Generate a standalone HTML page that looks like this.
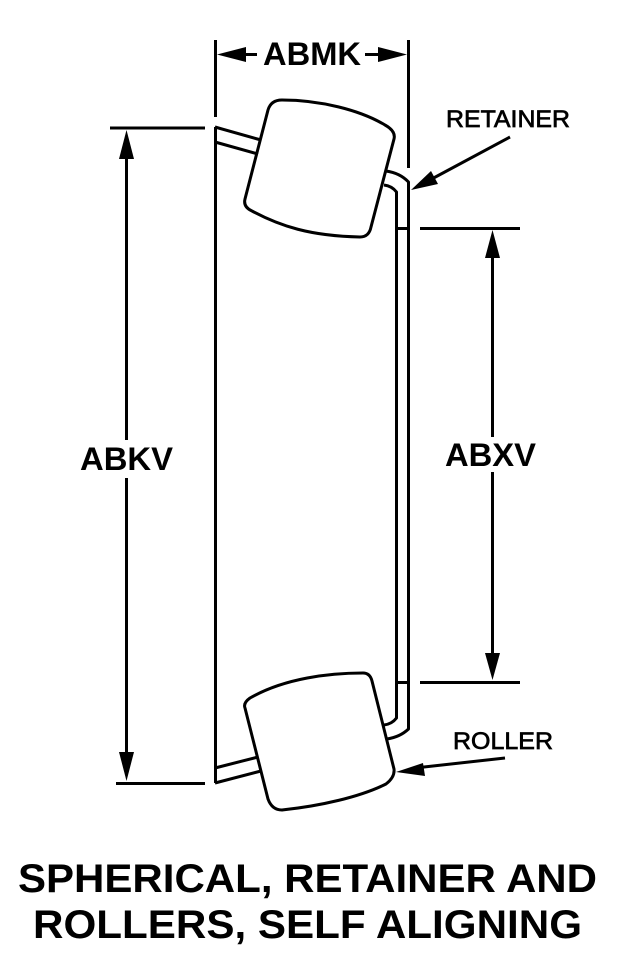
<!DOCTYPE html>
<html>
<head>
<meta charset="utf-8">
<style>
html,body{margin:0;padding:0;background:#fff;width:617px;height:969px;overflow:hidden}
svg{display:block}
text{font-family:"Liberation Sans",Arial,sans-serif;fill:#000;stroke:none}
.b{font-weight:bold}
</style>
</head>
<body>
<svg width="617" height="969" viewBox="0 0 617 969" xmlns="http://www.w3.org/2000/svg">
<g fill="none" stroke="#000" stroke-width="3" stroke-linecap="butt" stroke-linejoin="round">
  <!-- extension lines -->
  <path d="M215.500 40V117"/>
  <path d="M215.500 127V783"/>
  <path d="M408.500 40V168"/>
  <path d="M110 128H205"/>
  <path d="M116 783.500H205"/>
  <path d="M420 228.500H520"/>
  <path d="M420 682.500H520"/>
  <!-- cage -->
  <path d="M215 127L261 140"/>
  <path d="M215 142L258 154"/>
  <path d="M215 768L258 757"/>
  <path d="M215 783L261 771"/>
  <!-- retainer -->
  <path d="M386 171Q400 173 408.500 182V729Q400 737 387 739"/>
  <path d="M384 185Q392 186 396.500 192V718Q392 724 384 725"/>
  <path d="M396 228.500H408"/>
  <path d="M396 682.500H408"/>
  <!-- rollers -->
  <path d="M268 110Q271 100 282 100C320 100 360 110 385 125Q396 131 394 139L371 227Q369 237 360 237C310 236 280 226 252 211Q243 207 245 199Z"/>
  <path d="M245 708Q243 703 250 698C285 678 330 673 363 673Q370 673 372 681L394 769Q395 777 386 784C360 797 320 806 282 810Q272 810 268 799Z"/>
  <!-- dimension shafts -->
  <path d="M126.500 150V440"/>
  <path d="M126.500 478V760"/>
  <path d="M492.500 250V437"/>
  <path d="M492.500 472V660"/>
  <path d="M235 54.500H257"/>
  <path d="M365 54.500H388"/>
  <path d="M510 137L428 181"/>
  <path d="M505 758L415 768"/>
</g>
<g fill="#000" stroke="none">
  <path d="M217 54.500L246 47V62Z"/>
  <path d="M407 54.500L378 47V62Z"/>
  <path d="M126.500 130L119 159H134Z"/>
  <path d="M126.500 781L119 752H134Z"/>
  <path d="M492.500 230L485 258H500Z"/>
  <path d="M492.500 680L485 653H500Z"/>
  <path d="M411 190L431 171L438 184Z"/>
  <path d="M396 772L423 763L425 776Z"/>
</g>
<text class="b" x="263" y="65" font-size="32.500" textLength="98" lengthAdjust="spacingAndGlyphs">ABMK</text>
<text class="b" x="80" y="470" font-size="32.500" textLength="93" lengthAdjust="spacingAndGlyphs">ABKV</text>
<text class="b" x="445" y="466" font-size="32.500" textLength="91" lengthAdjust="spacingAndGlyphs">ABXV</text>
<text x="446" y="127" font-size="24" textLength="124" lengthAdjust="spacingAndGlyphs" style="stroke:#000;stroke-width:.7">RETAINER</text>
<text x="453" y="749" font-size="24" textLength="100" lengthAdjust="spacingAndGlyphs" style="stroke:#000;stroke-width:.7">ROLLER</text>
<text class="b" x="18" y="892" font-size="40" textLength="579" lengthAdjust="spacingAndGlyphs">SPHERICAL, RETAINER AND</text>
<text class="b" x="33" y="938" font-size="40" textLength="549" lengthAdjust="spacingAndGlyphs">ROLLERS, SELF ALIGNING</text>
</svg>
</body>
</html>
